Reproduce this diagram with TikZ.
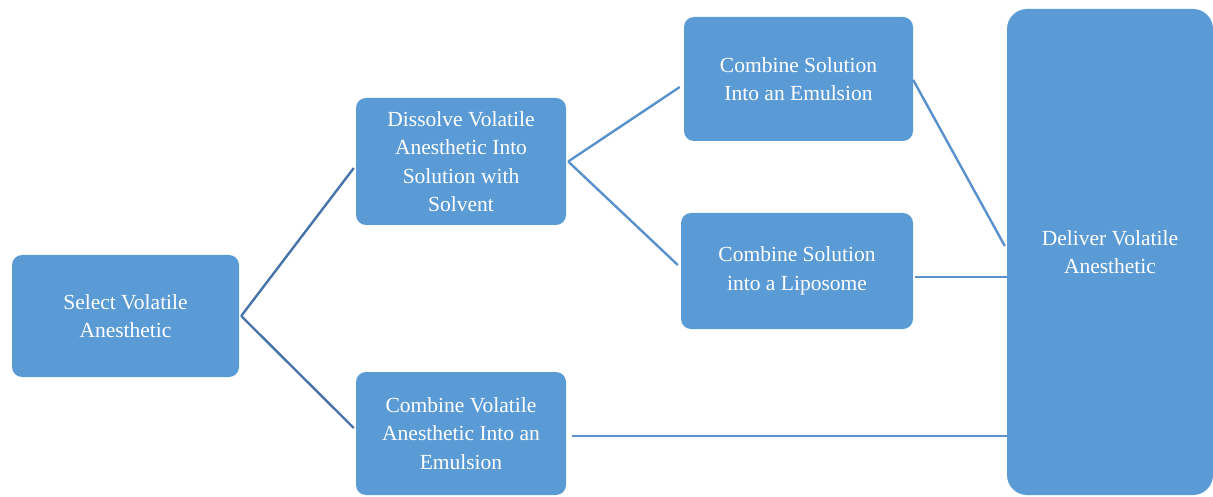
\documentclass[tikz,border=0pt]{standalone}
\usepackage{fontspec}
\setmainfont{Liberation Serif}
\definecolor{boxblue}{HTML}{5B9BD5}
\definecolor{linkdark}{HTML}{4674AA}
\definecolor{linklight}{HTML}{5891CC}
\tikzset{
  stepbox/.style={fill=boxblue, rounded corners=10pt, text=white, align=center,
    font=\fontsize{21.5}{28.5}\selectfont, inner sep=0pt},
  link/.style={line width=2.4pt, linklight},
}
\begin{document}
\begin{tikzpicture}[x=1pt, y=-1pt]

  \useasboundingbox (0,0) rectangle (1213,497);

  %%%%%%%%%%%%%%%%%%%%%%%%%%%%%%%%%%%%%%%%%%%%%%%%%
  % Boxes
  \node[stepbox, minimum width=227pt, minimum height=122pt] (select) at (125.5,316)
      {Select Volatile\\Anesthetic};
  \node[stepbox, minimum width=210pt, minimum height=127pt] (dissolve) at (461,161.5)
      {Dissolve Volatile\\Anesthetic Into\\Solution with\\Solvent};
  \node[stepbox, minimum width=210pt, minimum height=123pt] (volemul) at (461,433.5)
      {Combine Volatile\\Anesthetic Into an\\Emulsion};
  \node[stepbox, minimum width=229pt, minimum height=124pt] (solemul) at (798.5,79)
      {Combine Solution\\Into an Emulsion};
  \node[stepbox, minimum width=232pt, minimum height=116pt] (lipo) at (797,271)
      {Combine Solution\\into a Liposome};
  \node[stepbox, rounded corners=20pt, minimum width=206pt, minimum height=486pt] (deliver) at (1110,252)
      {Deliver Volatile\\Anesthetic};

  %%%%%%%%%%%%%%%%%%%%%%%%%%%%%%%%%%%%%%%%%%%%%%%%%
  % Connectors
  \draw[link, linkdark] ([xshift=2pt]select.east) -- ([xshift=-2pt, yshift=-6.5pt]dissolve.west);
  \draw[link, linkdark] ([xshift=2pt]select.east) -- ([xshift=-2pt, yshift=5.5pt]volemul.west);

  \draw[link] ([xshift=2pt]dissolve.east) -- ([xshift=-4pt, yshift=-8pt]solemul.west);
  \draw[link] ([xshift=2pt]dissolve.east) -- ([xshift=-3pt, yshift=6pt]lipo.west);

  \draw[link] ([yshift=-1pt]solemul.east) -- ([xshift=-2pt, yshift=6pt]deliver.west);
  \draw[link] ([xshift=2pt, yshift=-6pt]lipo.east) -- ([yshift=-25pt]deliver.west);
  \draw[link] ([xshift=6pt, yshift=-2.5pt]volemul.east) -- ([yshift=-184pt]deliver.west);

\end{tikzpicture}
\end{document}
